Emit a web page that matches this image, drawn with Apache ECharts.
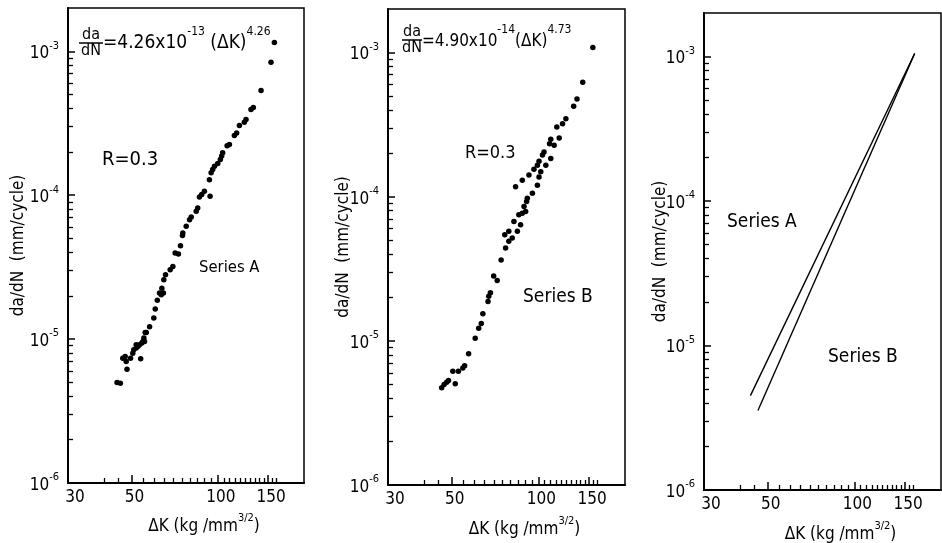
<!DOCTYPE html>
<html>
<head>
<meta charset="utf-8">
<script src="https://cdn.jsdelivr.net/npm/echarts@6/dist/echarts.min.js"></script>
<style>
  html, body { margin: 0; padding: 0; background: #ffffff; }
  #chart { width: 942px; height: 543px; }
</style>
</head>
<body>
<div id="chart"></div>
<script>
// Crack growth rate da/dN (mm/cycle) against stress intensity range ΔK (kg/mm^3/2)

// Series A measurements: [ΔK, da/dN]
const seriesAPoints = [
  [157.6, 1.15e-3], [153.4, 8.4e-4], [141.6, 5.35e-4], [133.1, 4.07e-4], [130.6, 3.94e-4],
  [125.5, 3.36e-4], [123.8, 3.21e-4], [119.0, 3.05e-4], [116.4, 2.71e-4], [114.3, 2.60e-4],
  [109.8, 2.25e-4], [107.8, 2.21e-4], [104.0, 1.97e-4], [103.2, 1.87e-4], [102.1, 1.77e-4],
  [100.0, 1.66e-4], [97.4, 1.59e-4], [96.0, 1.51e-4], [94.8, 1.43e-4], [93.5, 1.28e-4],
  [89.8, 1.065e-4], [87.9, 1.01e-4], [86.3, 9.73e-5], [94.0, 9.83e-5], [85.1, 8.16e-5],
  [84.1, 7.73e-5], [80.8, 7.06e-5], [79.7, 6.76e-5], [77.6, 6.08e-5], [75.5, 5.47e-5],
  [75.3, 5.24e-5], [74.1, 4.46e-5], [72.9, 3.90e-5], [71.0, 3.96e-5], [69.7, 3.20e-5],
  [68.2, 3.03e-5], [65.7, 2.80e-5], [64.8, 2.59e-5], [63.8, 2.26e-5], [64.6, 2.09e-5],
  [62.6, 2.09e-5], [63.5, 2.03e-5], [61.5, 1.86e-5], [60.5, 1.62e-5], [59.8, 1.40e-5],
  [57.8, 1.22e-5], [55.8, 1.11e-5], [56.3, 1.11e-5], [55.2, 1.016e-5], [55.5, 9.62e-6],
  [54.8, 9.62e-6], [54.3, 9.38e-6], [53.3, 9.13e-6], [51.9, 9.13e-6], [52.6, 8.88e-6],
  [51.9, 8.66e-6], [50.9, 8.42e-6], [50.5, 7.99e-6], [53.8, 7.29e-6], [49.6, 7.37e-6],
  [47.5, 7.57e-6], [46.6, 7.37e-6], [47.9, 6.98e-6], [48.2, 6.18e-6], [44.5, 4.99e-6],
  [45.7, 4.94e-6]
];

// Series B measurements: [ΔK, da/dN]
const seriesBPoints = [
  [154.6, 1.083e-3], [142.6, 6.21e-4], [136.2, 4.76e-4], [132.6, 4.24e-4], [124.6, 3.47e-4],
  [121.3, 3.20e-4], [115.9, 3.04e-4], [118.1, 2.55e-4], [113.4, 2.27e-4], [110.4, 2.50e-4],
  [109.3, 2.33e-4], [104.6, 2.04e-4], [103.3, 1.94e-4], [110.4, 1.84e-4], [100.5, 1.76e-4],
  [99.2, 1.65e-4], [106.1, 1.65e-4], [96.5, 1.55e-4], [101.9, 1.49e-4], [92.7, 1.41e-4],
  [100.5, 1.37e-4], [87.9, 1.30e-4], [99.2, 1.20e-4], [95.3, 1.054e-4], [83.3, 1.17e-4],
  [91.5, 9.73e-5], [91.0, 9.24e-5], [89.1, 8.53e-5], [90.3, 7.88e-5], [87.9, 7.67e-5],
  [85.5, 7.48e-5], [82.2, 6.72e-5], [86.7, 6.38e-5], [78.9, 5.74e-5], [84.5, 5.74e-5],
  [76.4, 5.44e-5], [81.1, 5.16e-5], [78.9, 4.90e-5], [76.9, 4.40e-5], [74.2, 3.64e-5],
  [69.9, 2.81e-5], [71.9, 2.62e-5], [68.1, 2.15e-5], [67.2, 2.04e-5], [66.8, 1.87e-5],
  [64.1, 1.54e-5], [63.3, 1.32e-5], [62.0, 1.22e-5], [60.3, 1.04e-5], [57.2, 8.13e-6],
  [55.4, 6.72e-6], [54.6, 6.48e-6], [52.7, 6.14e-6], [50.4, 6.14e-6], [51.4, 5.03e-6],
  [48.7, 5.30e-6], [48.0, 5.16e-6], [47.0, 4.97e-6], [46.1, 4.72e-6]
];

// Fitted lines compared in the third panel: [ΔK, da/dN] end points
const fitLineA = [[43.5, 4.5e-6], [162, 1.05e-3]];
const fitLineB = [[46.2, 3.55e-6], [162, 1.05e-3]];

// Axis tick values
const xLabelValues = [30, 50, 100, 150];
const xMajorTicks = [50, 100, 150];
const xMinorTicks = [40, 45, 55, 60, 65, 70, 75, 80, 85, 90, 95, 105, 110, 115, 120, 125, 130, 135, 140, 145, 155, 160];
const yLabelValues = [1e-6, 1e-5, 1e-4, 1e-3];
const yMinorTicks = [
  2e-6, 3e-6, 4e-6, 5e-6, 6e-6, 7e-6, 8e-6, 9e-6,
  2e-5, 3e-5, 4e-5, 5e-5, 6e-5, 7e-5, 8e-5, 9e-5,
  2e-4, 3e-4, 4e-4, 5e-4, 6e-4, 7e-4, 8e-4, 9e-4
];

const FONT = "'DejaVu Sans Condensed', 'DejaVu Sans', sans-serif";
const INK = '#000';

// Panel frames (pixels)
const frames = [
  { left: 68, top: 8, width: 236, height: 475, yNameGap: 41 },
  { left: 388, top: 9, width: 237, height: 476, yNameGap: 36 },
  { left: 704, top: 13, width: 237, height: 477, yNameGap: 35 }
];

const chart = echarts.init(document.getElementById('chart'), null, { renderer: 'canvas' });

const grids = [], xAxes = [], yAxes = [];

frames.forEach((f, i) => {
  grids.push({
    left: f.left, top: f.top, width: f.width, height: f.height,
    show: true, borderColor: INK, borderWidth: 1.5, backgroundColor: 'transparent',
    containLabel: false, outerBoundsMode: 'none'
  });

  // main x axis: labels + long ticks
  xAxes.push({
    type: 'log', logBase: 10, gridIndex: i, min: 30, max: 200, position: 'bottom',
    axisLine: { show: true, lineStyle: { color: INK, width: 2 } },
    axisTick: { show: true, inside: true, length: 8, customValues: xMajorTicks, lineStyle: { color: INK, width: 1.5 } },
    axisLabel: {
      show: true, customValues: xLabelValues, margin: 6,
      formatter: v => (Math.round(v) === 30 ? '{f|30}' : '{t|' + Math.round(v) + '}'),
      rich: {
        f: { fontSize: 17, fontFamily: FONT, color: INK, padding: [0, 0, 0, 14] },
        t: { fontSize: 17, fontFamily: FONT, color: INK, padding: [0, 0, 0, 6] }
      }
    },
    splitLine: { show: false }, minorTick: { show: false },
    name: '{n|ΔK (kg /mm}{s|3/2}{n|)}',
    nameLocation: 'middle', nameGap: i === 0 ? 30 : 31, nameMoveOverlap: false,
    nameTextStyle: {
      padding: [0, 0, 0, 36],
      rich: {
        n: { fontSize: 17, fontFamily: FONT, color: INK, lineHeight: 22, verticalAlign: 'bottom' },
        s: { fontSize: 11, fontFamily: FONT, color: INK, lineHeight: 12, verticalAlign: 'top' }
      }
    }
  });
  // minor x ticks
  xAxes.push({
    type: 'log', logBase: 10, gridIndex: i, min: 30, max: 200, position: 'bottom',
    axisLine: { show: false },
    axisTick: { show: true, inside: true, length: 5, customValues: xMinorTicks, lineStyle: { color: INK, width: 1.3 } },
    axisLabel: { show: false }, splitLine: { show: false }, minorTick: { show: false }
  });

  // main y axis: labels + decade ticks
  yAxes.push({
    type: 'log', logBase: 10, gridIndex: i, min: 1e-6, max: 2e-3, position: 'left',
    axisLine: { show: true, lineStyle: { color: INK, width: 2 } },
    axisTick: { show: true, inside: true, length: 7, customValues: yLabelValues, lineStyle: { color: INK, width: 1.5 } },
    axisLabel: {
      show: true, customValues: yLabelValues, margin: 9,
      formatter: v => '{b|10}{s|' + Math.round(Math.log10(v)) + '}',
      rich: {
        b: { fontSize: 17, fontFamily: FONT, color: INK, lineHeight: 22, verticalAlign: 'bottom', padding: [3, 0, 0, 0] },
        s: { fontSize: 11, fontFamily: FONT, color: INK, lineHeight: 12, verticalAlign: 'top' }
      }
    },
    splitLine: { show: false }, minorTick: { show: false },
    name: 'da/dN  (mm/cycle)',
    nameLocation: 'middle', nameGap: f.yNameGap, nameMoveOverlap: false,
    nameTextStyle: { fontSize: 17, fontFamily: FONT, color: INK }
  });
  // minor y ticks
  yAxes.push({
    type: 'log', logBase: 10, gridIndex: i, min: 1e-6, max: 2e-3, position: 'left',
    axisLine: { show: false },
    axisTick: { show: true, inside: true, length: 5, customValues: yMinorTicks, lineStyle: { color: INK, width: 1.3 } },
    axisLabel: { show: false }, splitLine: { show: false }, minorTick: { show: false }
  });
});

const dotStyle = { color: INK, opacity: 1 };
const series = [
  { type: 'scatter', xAxisIndex: 0, yAxisIndex: 0, data: seriesAPoints, symbol: 'circle', symbolSize: 5.5, itemStyle: dotStyle, silent: true },
  { type: 'scatter', xAxisIndex: 2, yAxisIndex: 2, data: seriesBPoints, symbol: 'circle', symbolSize: 5.5, itemStyle: dotStyle, silent: true },
  { type: 'line', xAxisIndex: 4, yAxisIndex: 4, data: fitLineA, showSymbol: false, lineStyle: { color: INK, width: 1.4 }, silent: true },
  { type: 'line', xAxisIndex: 4, yAxisIndex: 4, data: fitLineB, showSymbol: false, lineStyle: { color: INK, width: 1.4 }, silent: true }
];

// text annotations
function plainText(x, y, text, size, align) {
  return {
    type: 'text', x: x, y: y, silent: true,
    style: { text: text, fill: INK, fontSize: size, fontFamily: FONT, align: align || 'left', verticalAlign: 'middle' }
  };
}
function fraction(cx, yLine, halfWidth) {
  return [
    plainText(cx, yLine - 8, 'da', 16, 'center'),
    { type: 'line', silent: true, shape: { x1: cx - halfWidth, y1: yLine, x2: cx + halfWidth, y2: yLine }, style: { stroke: INK, lineWidth: 1.5 } },
    plainText(cx, yLine + 8, 'dN', 16, 'center')
  ];
}
function powerLaw(x, y, text, size) {
  return {
    type: 'text', x: x, y: y, silent: true,
    style: {
      text: text, align: 'left', verticalAlign: 'middle',
      rich: {
        m: { fontSize: size, fontFamily: FONT, fill: INK, lineHeight: 27, verticalAlign: 'bottom' },
        p: { fontSize: 12, fontFamily: FONT, fill: INK, lineHeight: 12, verticalAlign: 'top' }
      }
    }
  };
}

const graphic = [].concat(
  fraction(91, 43, 12),
  [powerLaw(103, 39, '{m|=4.26x10}{p|-13}{m| (ΔK)}{p|4.26}', 19)],
  [plainText(102, 160, 'R=0.3', 20), plainText(199, 268, 'Series A', 16.5)],
  fraction(412, 40, 10),
  [powerLaw(422, 37, '{m|=4.90x10}{p|-14}{m|(ΔK)}{p|4.73}', 17)],
  [plainText(465, 153, 'R=0.3', 18), plainText(523, 297, 'Series B', 19)],
  [plainText(727, 222, 'Series A', 19), plainText(828, 357, 'Series B', 19)]
);

chart.setOption({
  backgroundColor: '#ffffff',
  animation: false,
  grid: grids,
  xAxis: xAxes,
  yAxis: yAxes,
  series: series,
  graphic: graphic
});
</script>
</body>
</html>
